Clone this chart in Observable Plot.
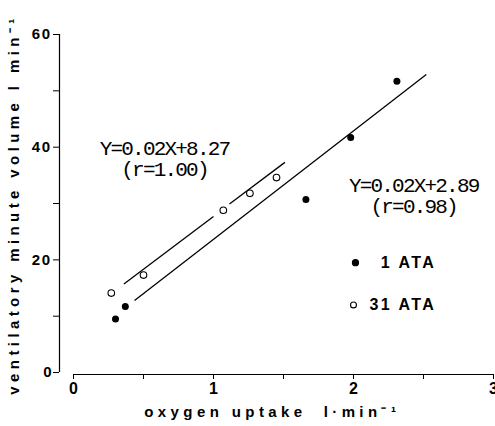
<!DOCTYPE html>
<html>
<head>
<meta charset="utf-8">
<script src="https://cdn.jsdelivr.net/npm/d3@7"></script>
<script src="https://cdn.jsdelivr.net/npm/@observablehq/plot@0.6"></script>
<style>
  html, body { margin: 0; padding: 0; background: #fff; overflow: hidden; }
  #chart svg { display: block; }
</style>
</head>
<body>
<div id="chart"></div>
<script>
// Data
const oneATA_x = [0.30, 0.37, 1.66, 1.98, 2.31];
const oneATA_y = [9.5, 11.7, 30.7, 41.7, 51.7];
const thirtyOneATA_x = [0.27, 0.50, 1.07, 1.26, 1.45];
const thirtyOneATA_y = [14.1, 17.3, 28.8, 31.8, 34.6];

// Regression line segments (endpoints)
const fit1_x1 = [0.436], fit1_y1 = [12.8], fit1_x2 = [2.52], fit1_y2 = [52.9];
const fit31_x1 = [0.36, 1.114], fit31_y1 = [15.7, 29.9], fit31_x2 = [1.0, 1.51], fit31_y2 = [27.7, 37.3];

const xTicks = [0, 0.5, 1, 1.5, 2, 2.5, 3];
const yTicks = [0, 10, 20, 30, 40, 50, 60];
const xTickLabels = [0, 1, 2, 3];
const yTickLabels = [0, 20, 40, 60];
const xTitle = "oxygen uptake  l·min⁻¹";
const yTitle = "ventilatory minute volume l min⁻¹";
const legendLabels = ["1 ATA", "31 ATA"];
const equations = ["Y=0.02X+8.27\n(r=1.00)", "Y=0.02X+2.89\n(r=0.98)"];

const pts1 = oneATA_x.map((x, i) => ({x, y: oneATA_y[i]}));
const pts31 = thirtyOneATA_x.map((x, i) => ({x, y: thirtyOneATA_y[i]}));
const seg1 = fit1_x1.map((x1, i) => ({x1, y1: fit1_y1[i], x2: fit1_x2[i], y2: fit1_y2[i]}));
const seg31 = fit31_x1.map((x1, i) => ({x1, y1: fit31_y1[i], x2: fit31_x2[i], y2: fit31_y2[i]}));

// annotation placement
const legendSym = [{x: 2.014, y: 19.5, filled: true}, {x: 2.0, y: 12.0, filled: false}];
const legendText = [{x: 2.59, y: 19.5, t: legendLabels[0]}, {x: 2.59, y: 12.0, t: legendLabels[1]}];
const eqPos = [{x: 0.65, y: 37.9, t: equations[0]}, {x: 2.43, y: 31.45, t: equations[1]}];

const SANS = "Liberation Sans, Arial, sans-serif";
const MONO = "Liberation Mono, DejaVu Sans Mono, monospace";

const plot = Plot.plot({
  width: 495,
  height: 426,
  marginLeft: 59,
  marginRight: 2,
  marginTop: 34,
  marginBottom: 52,
  style: {fontFamily: SANS, color: "black", background: "white"},
  x: {domain: [-0.1, 3], axis: null},
  y: {domain: [-0.35, 60], axis: null},
  marks: [
    Plot.ruleX([-0.1], {y1: 0, y2: 60, stroke: "black", strokeWidth: 1.2}),
    Plot.ruleY([-0.35], {x1: 0, x2: 3, stroke: "black", strokeWidth: 1.2}),
    Plot.axisY({ticks: yTicks, tickSize: 6, tickFormat: () => "", label: null}),
    Plot.axisX({ticks: xTicks, tickSize: 5, tickFormat: () => "", label: null}),
    Plot.text(yTickLabels, {y: d => d, frameAnchor: "left", textAnchor: "end", dx: -8, text: d => String(d), fill: "black",
                            fontSize: 15, fontWeight: "bold", fontFamily: SANS}),
    Plot.text(xTickLabels, {x: d => d, frameAnchor: "bottom", dy: 19, text: d => String(d), fill: "black",
                            fontSize: 16, fontWeight: "bold", fontFamily: SANS}),
    Plot.link(seg1, {x1: "x1", y1: "y1", x2: "x2", y2: "y2", stroke: "black", strokeWidth: 1.3}),
    Plot.link(seg31, {x1: "x1", y1: "y1", x2: "x2", y2: "y2", stroke: "black", strokeWidth: 1.3}),
    Plot.dot(pts1, {x: "x", y: "y", r: 3.5, fill: "black", stroke: "none"}),
    Plot.dot(pts31, {x: "x", y: "y", r: 3.3, fill: "white", stroke: "black", strokeWidth: 1.1}),
    Plot.dot(legendSym, {x: "x", y: "y", r: d => d.filled ? 3.2 : 3.0, fill: d => d.filled ? "black" : "white", stroke: "black", strokeWidth: 1.1}),
    Plot.text(legendText, {x: "x", y: "y", text: "t", textAnchor: "end", fill: "black",
                           fontSize: 16, fontWeight: "bold", fontFamily: SANS}),
    Plot.text(eqPos, {x: "x", y: "y", text: "t", lineHeight: 1.0, textAnchor: "middle", fill: "black",
                      fontSize: 21, fontFamily: MONO}),
    Plot.text([xTitle], {x: 1.42, frameAnchor: "bottom", dy: 42, text: d => d, fill: "black",
                         fontSize: 15, fontWeight: "bold", fontFamily: SANS}),
    Plot.text([yTitle], {frameAnchor: "left", dx: -45, rotate: -90, textAnchor: "middle", text: d => d, fill: "black",
                         fontSize: 15, fontWeight: "bold", fontFamily: SANS})
  ]
});
const svg = d3.select(plot);
const yLabelStrings = yTickLabels.filter(d => d > 0).map(String);
svg.selectAll("text").each(function() {
  const s = this.textContent;
  if (s === xTitle || s === yTitle) {
    this.setAttribute("letter-spacing", "4.4px");
  } else if (legendLabels.includes(s)) {
    this.setAttribute("letter-spacing", "2.4px");
  } else if (/Y=|\(r=/.test(s)) {
    this.setAttribute("letter-spacing", "-1.8px");
  } else if (yLabelStrings.includes(s)) {
    this.setAttribute("letter-spacing", "1.5px");
  }
});
document.getElementById("chart").appendChild(plot);
</script>
</body>
</html>
